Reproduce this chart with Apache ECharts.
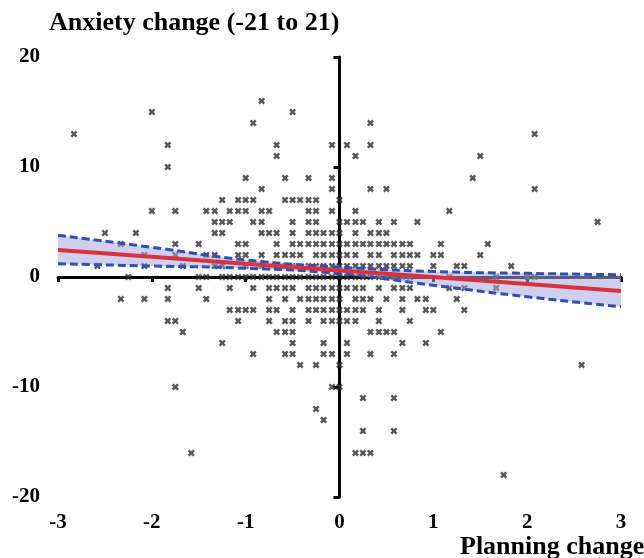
<!DOCTYPE html>
<html>
<head>
<meta charset="utf-8">
<script src="https://cdn.jsdelivr.net/npm/echarts@6/dist/echarts.min.js"></script>
<style>
  html, body { margin: 0; padding: 0; background: #fff; }
  #main { width: 644px; height: 558px; }
</style>
</head>
<body>
<div id="main"></div>
<script>
// anxiety change levels (y) and the planning change values (x) read at each level
var anxietyLevels = [16, 15, 14, 13, 12, 11, 10, 9, 8, 7, 6, 5, 4, 3, 2, 1, 0, -1, -2, -3, -4, -5, -6, -7, -8, -10, -11, -12, -13, -14, -16, -18];
var planningByLevel = [
    [-0.83],
    [-2, -0.5],
    [-0.92, 0.33],
    [-2.83, 2.08],
    [-1.83, -0.67, -0.08, 0.08, 0.33],
    [-0.67, 0.17, 1.5],
    [-1.83],
    [-1, -0.58, -0.33, -0.08, 1.42],
    [-0.83, -0.08, 0.33, 0.5, 2.08],
    [-1.25, -1.08, -1, -0.92, -0.58, -0.5, -0.42, -0.33, -0.25, 0],
    [-2, -1.75, -1.42, -1.33, -1.17, -1.08, -1, -0.83, -0.75, -0.33, -0.25, -0.08, 0.17, 1.17],
    [-1.33, -1.25, -1.17, -0.92, -0.83, -0.5, -0.33, -0.25, 0, 0.08, 0.17, 0.25, 0.42, 0.58, 0.83, 2.75],
    [-2.5, -2.17, -1.33, -1.25, -0.83, -0.75, -0.67, -0.5, -0.33, -0.25, -0.17, -0.08, 0, 0.17, 0.33, 0.42, 0.5],
    [-2.33, -1.75, -1.5, -1.08, -1, -0.67, -0.5, -0.42, -0.33, -0.25, -0.17, -0.08, 0, 0.08, 0.17, 0.25, 0.33, 0.42, 0.5, 0.58, 0.67, 0.75, 1.08, 1.58],
    [-2.08, -1.75, -1.42, -1.33, -1.08, -1, -0.83, -0.67, -0.58, -0.5, -0.42, -0.25, -0.17, -0.08, 0, 0.08, 0.17, 0.33, 0.42, 0.58, 0.67, 0.75, 0.83, 1, 1.08, 1.5],
    [-2.58, -2.08, -1.67, -1.33, -1.25, -1, -0.83, -0.67, -0.58, -0.5, -0.33, -0.25, -0.17, -0.08, 0, 0.08, 0.17, 0.25, 0.33, 0.42, 0.5, 0.58, 0.67, 0.75, 1, 1.25, 1.33, 1.83],
    [-2.25, -1.5, -1.42, -1.25, -1.17, -1.08, -1, -0.92, -0.83, -0.75, -0.67, -0.58, -0.5, -0.42, -0.33, -0.25, -0.17, -0.08, 0, 0.08, 0.17, 0.25, 0.33, 0.42, 0.5, 0.58, 0.67, 0.75, 1.17, 1.67, 2, 2.08],
    [-1.83, -1.5, -1.17, -0.92, -0.75, -0.67, -0.58, -0.5, -0.33, -0.25, -0.17, -0.08, 0, 0.08, 0.17, 0.25, 0.42, 0.58, 0.67, 0.75, 1.17, 1.33, 1.67],
    [-2.33, -2.08, -1.83, -1.42, -0.75, -0.58, -0.42, -0.33, -0.25, -0.17, -0.08, 0, 0.17, 0.25, 0.33, 0.5, 0.67, 0.83, 0.92, 1.25],
    [-1.17, -1.08, -1, -0.92, -0.75, -0.67, -0.5, -0.33, -0.25, -0.17, -0.08, 0, 0.08, 0.17, 0.25, 0.42, 0.67, 0.92, 1, 1.33],
    [-1.83, -1.75, -1.08, -0.75, -0.58, -0.5, -0.33, -0.17, -0.08, 0, 0.08, 0.17, 0.42, 0.75],
    [-1.67, -0.67, -0.58, -0.5, 0.33, 0.42, 0.5, 0.58, 1.08],
    [-1.25, -0.5, -0.17, 0.08, 0.67, 0.92],
    [-0.92, -0.58, -0.5, -0.17, -0.08, 0.08, 0.33, 0.58],
    [-0.42, -0.25, 0, 2.58],
    [-1.75, -0.08, 0],
    [0.25, 0.58],
    [-0.25],
    [-0.17],
    [0.25, 0.58],
    [-1.58, 0.17, 0.25, 0.33],
    [1.75]
];

// regression line and its confidence band
var fitX = [-3, -2, -1, 0, 1, 2, 3];
var fitY = [2.45, 1.85, 1.2, 0.6, 0, -0.63, -1.28];
var bandUpper = [3.8, 2.7, 1.55, 0.9, 0.5, 0.33, 0.2];
var bandLower = [1.2, 1.0, 0.8, 0.3, -0.75, -1.8, -2.7];

var xTicks = { min: -3, max: 3, interval: 1 };
var yTicks = { min: -20, max: 20, interval: 10 };

var points = [];
for (var i = 0; i < anxietyLevels.length; i++) {
    for (var j = 0; j < planningByLevel[i].length; j++) {
        points.push([planningByLevel[i][j], anxietyLevels[i]]);
    }
}
var pair = function(xs, ys) {
    var out = [];
    for (var k = 0; k < xs.length; k++) out.push([xs[k], ys[k]]);
    return out;
};

var serif = 'Liberation Serif';
var chart = echarts.init(document.getElementById('main'));
var option = {
    animation: false,
    backgroundColor: '#fff',
    title: [
        {
            text: 'Anxiety change (-21 to 21)',
            left: 49, top: 10, padding: 0,
            textStyle: { fontFamily: serif, fontWeight: 'bold', fontSize: 26, color: '#000' }
        },
        {
            text: 'Planning change',
            left: 460, top: 534, padding: 0,
            textStyle: { fontFamily: serif, fontWeight: 'bold', fontSize: 26, color: '#000' }
        }
    ],
    grid: { left: 58, right: 23, top: 57, bottom: 61 },
    xAxis: [
        {
            // tick labels at the bottom
            type: 'value', min: xTicks.min, max: xTicks.max, interval: xTicks.interval,
            position: 'bottom',
            axisLine: { show: false }, axisTick: { show: false }, splitLine: { show: false },
            axisLabel: { fontFamily: serif, fontWeight: 'bold', fontSize: 21, color: '#000', margin: 15 }
        },
        {
            // the axis line crossing at y = 0
            type: 'value', min: xTicks.min, max: xTicks.max, interval: xTicks.interval,
            axisLine: { onZero: true, lineStyle: { color: '#000', width: 3 } },
            axisTick: { show: true, inside: true, length: 5, lineStyle: { color: '#000', width: 3 } },
            axisLabel: { show: false }, splitLine: { show: false }
        }
    ],
    yAxis: [
        {
            type: 'value', min: yTicks.min, max: yTicks.max, interval: yTicks.interval,
            position: 'left',
            axisLine: { show: false }, axisTick: { show: false }, splitLine: { show: false },
            axisLabel: { fontFamily: serif, fontWeight: 'bold', fontSize: 21, color: '#000', margin: 18 }
        },
        {
            // the axis line crossing at x = 0
            type: 'value', min: yTicks.min, max: yTicks.max, interval: yTicks.interval,
            axisLine: { onZero: true, lineStyle: { color: '#000', width: 3 } },
            axisTick: { show: true, inside: true, length: 6, lineStyle: { color: '#000', width: 3 } },
            axisLabel: { show: false }, splitLine: { show: false }
        }
    ],
    series: [
        {
            type: 'scatter',
            data: points,
            symbol: 'path://M0,2.5L2.5,0L5,2.5L7.5,0L10,2.5L7.5,5L10,7.5L7.5,10L5,7.5L2.5,10L0,7.5L2.5,5Z',
            symbolSize: 7,
            itemStyle: { color: '#2e2e2e' },
            z: 2
        },
        {
            type: 'custom',
            data: [[0, 0]],
            silent: true,
            z: 3,
            renderItem: function(params, api) {
                var pts = [];
                for (var a = 0; a < fitX.length; a++) pts.push(api.coord([fitX[a], bandUpper[a]]));
                for (var b = fitX.length - 1; b >= 0; b--) pts.push(api.coord([fitX[b], bandLower[b]]));
                return {
                    type: 'polygon',
                    shape: { points: pts },
                    style: { fill: 'rgba(165,170,222,0.55)' }
                };
            }
        },
        {
            type: 'line', data: pair(fitX, bandUpper), symbol: 'none', smooth: true,
            lineStyle: { color: '#2f4fb3', width: 3, type: [8, 4] }, z: 4
        },
        {
            type: 'line', data: pair(fitX, bandLower), symbol: 'none', smooth: true,
            lineStyle: { color: '#2f4fb3', width: 3, type: [8, 4] }, z: 4
        },
        {
            type: 'line', data: pair(fitX, fitY), symbol: 'none',
            lineStyle: { color: '#d8323d', width: 4 }, z: 5
        }
    ]
};
chart.setOption(option);
</script>
</body>
</html>
